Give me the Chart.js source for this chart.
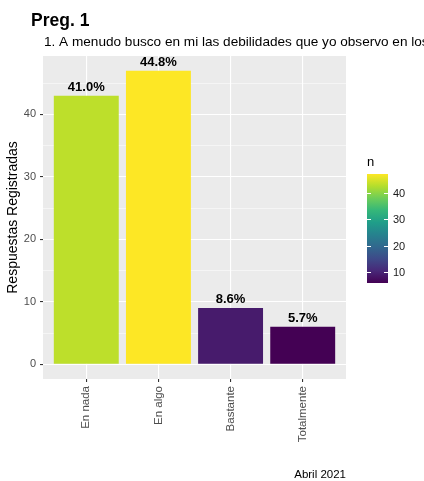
<!DOCTYPE html>
<html lang="es">
<head>
<meta charset="UTF-8" />
<title>Preg. 1</title>
<script src="https://cdn.jsdelivr.net/npm/chart.js"></script>
<style>
  html, body { margin: 0; padding: 0; background: #ffffff; }
  #wrap { width: 424px; height: 481px; }
</style>
</head>
<body>
<div id="wrap"><canvas id="chart" width="424" height="481"></canvas></div>
<script>
// data (counts, total 105)
const categories = ["En nada", "En algo", "Bastante", "Totalmente"];
const counts = [43, 47, 9, 6];
const yTicks = [0, 5, 10, 15, 20, 25, 30, 35, 40, 45];
const legendTicks = [10, 20, 30, 40];

const titleText = "Preg. 1";
const subtitleText = "1. A menudo busco en mi las debilidades que yo observo en los demás";
const captionText = "Abril 2021";

// viridis(10)
const viridis = ["#440154", "#482878", "#3E4A89", "#31688E", "#26828E",
                 "#1F9E89", "#35B779", "#6DCD59", "#B4DE2C", "#FDE725"];

function hexToRgb(h) {
  return [parseInt(h.slice(1, 3), 16), parseInt(h.slice(3, 5), 16), parseInt(h.slice(5, 7), 16)];
}
function viridisAt(t) {
  t = Math.max(0, Math.min(1, t));
  const pos = t * (viridis.length - 1);
  const i = Math.min(Math.floor(pos), viridis.length - 2);
  const f = pos - i;
  const a = hexToRgb(viridis[i]), b = hexToRgb(viridis[i + 1]);
  const c = a.map((v, k) => Math.round(v + (b[k] - v) * f));
  return `rgb(${c[0]},${c[1]},${c[2]})`;
}

const total = counts.reduce((s, v) => s + v, 0);
const nMin = Math.min(...counts);
const nMax = Math.max(...counts);
const barColors = counts.map(v => viridisAt((v - nMin) / (nMax - nMin)));
const yPad = nMax * 0.05;
const FONT = "'Liberation Sans', Arial, sans-serif";

const panelBg = {
  id: "panelBg",
  beforeDraw(chart) {
    const { ctx, chartArea: a } = chart;
    ctx.save();
    ctx.fillStyle = "#EBEBEB";
    ctx.fillRect(a.left, a.top, a.right - a.left, a.bottom - a.top);
    ctx.restore();
  }
};

const barLabels = {
  id: "barLabels",
  afterDatasetsDraw(chart) {
    const { ctx } = chart;
    const meta = chart.getDatasetMeta(0);
    ctx.save();
    ctx.font = "bold 13px " + FONT;
    ctx.fillStyle = "#000000";
    ctx.textAlign = "center";
    ctx.textBaseline = "alphabetic";
    meta.data.forEach((el, i) => {
      const pct = (counts[i] / total * 100).toFixed(1) + "%";
      ctx.fillText(pct, el.x, el.y - 5);
    });
    ctx.restore();
  }
};

const texts = {
  id: "texts",
  afterDraw(chart) {
    const { ctx } = chart;
    ctx.save();
    ctx.fillStyle = "#000000";
    ctx.textBaseline = "alphabetic";
    ctx.font = "bold 17.5px " + FONT;
    ctx.textAlign = "left";
    ctx.fillText(titleText, 31, 26);
    ctx.font = "13.6px " + FONT;
    ctx.fillText(subtitleText, 44, 46);
    ctx.font = "11.5px " + FONT;
    ctx.textAlign = "right";
    ctx.fillText(captionText, chart.chartArea.right, 478);
    ctx.restore();
  }
};

const colourBar = {
  id: "colourBar",
  afterDraw(chart) {
    const { ctx } = chart;
    const x0 = 367, x1 = 388, top = 174, bottom = 283;
    const yOf = v => bottom - (v - nMin) / (nMax - nMin) * (bottom - top);
    ctx.save();
    const g = ctx.createLinearGradient(0, bottom, 0, top);
    viridis.forEach((c, i) => g.addColorStop(i / (viridis.length - 1), c));
    ctx.fillStyle = g;
    ctx.fillRect(x0, top, x1 - x0, bottom - top);
    ctx.strokeStyle = "#ffffff";
    ctx.lineWidth = 1;
    ctx.font = "11px " + FONT;
    ctx.fillStyle = "#1A1A1A";
    ctx.textAlign = "left";
    ctx.textBaseline = "middle";
    legendTicks.forEach(v => {
      const y = Math.round(yOf(v)) + 0.5;
      ctx.beginPath();
      ctx.moveTo(x0, y); ctx.lineTo(x0 + 4, y);
      ctx.moveTo(x1 - 4, y); ctx.lineTo(x1, y);
      ctx.stroke();
      ctx.fillText(String(v), 393, y);
    });
    ctx.font = "13px " + FONT;
    ctx.fillStyle = "#000000";
    ctx.fillText("n", 367, 162);
    ctx.restore();
  }
};

new Chart(document.getElementById("chart").getContext("2d"), {
  type: "bar",
  data: {
    datasets: [{
      label: "n",
      data: counts.map((v, i) => ({ x: i + 1, y: v })),
      backgroundColor: barColors,
      borderWidth: 0,
      barPercentage: 0.9,
      categoryPercentage: 1.0
    }]
  },
  plugins: [panelBg, barLabels, texts, colourBar],
  options: {
    responsive: false,
    animation: false,
    layout: { padding: { top: 56, right: 78, left: 0, bottom: 0 } },
    plugins: {
      legend: { display: false },
      tooltip: { enabled: false }
    },
    scales: {
      x: {
        type: "linear",
        min: 0.4,
        max: 4.6,
        offset: false,
        afterBuildTicks: s => { s.ticks = categories.map((c, i) => ({ value: i + 1 })); },
        afterFit: s => { s.height = 102; },
        border: { display: false },
        grid: { offset: false, color: "#ffffff", lineWidth: 1.1, tickLength: 3, tickColor: "#333333" },
        ticks: {
          minRotation: 90,
          maxRotation: 90,
          padding: 4,
          color: "#4D4D4D",
          font: { family: FONT, size: 11.5 },
          callback: v => categories[v - 1]
        }
      },
      y: {
        min: -yPad,
        max: nMax + yPad,
        afterBuildTicks: s => { s.ticks = yTicks.map(v => ({ value: v })); },
        afterFit: s => { s.width = 43; },
        border: { display: false },
        grid: {
          color: "#ffffff",
          lineWidth: c => (c.tick && c.tick.value % 10 === 0 ? 1.1 : 0.5),
          tickLength: 3,
          tickColor: c => (c.tick && c.tick.value % 10 === 0 ? "#333333" : "rgba(0,0,0,0)")
        },
        ticks: {
          padding: 4,
          color: "#4D4D4D",
          font: { family: FONT, size: 11 },
          callback: v => (v % 10 === 0 ? v : "")
        },
        title: {
          display: true,
          text: "Respuestas Registradas",
          color: "#000000",
          font: { family: FONT, size: 14 },
          padding: { top: 5, bottom: 0 }
        }
      }
    }
  }
});
</script>
</body>
</html>
